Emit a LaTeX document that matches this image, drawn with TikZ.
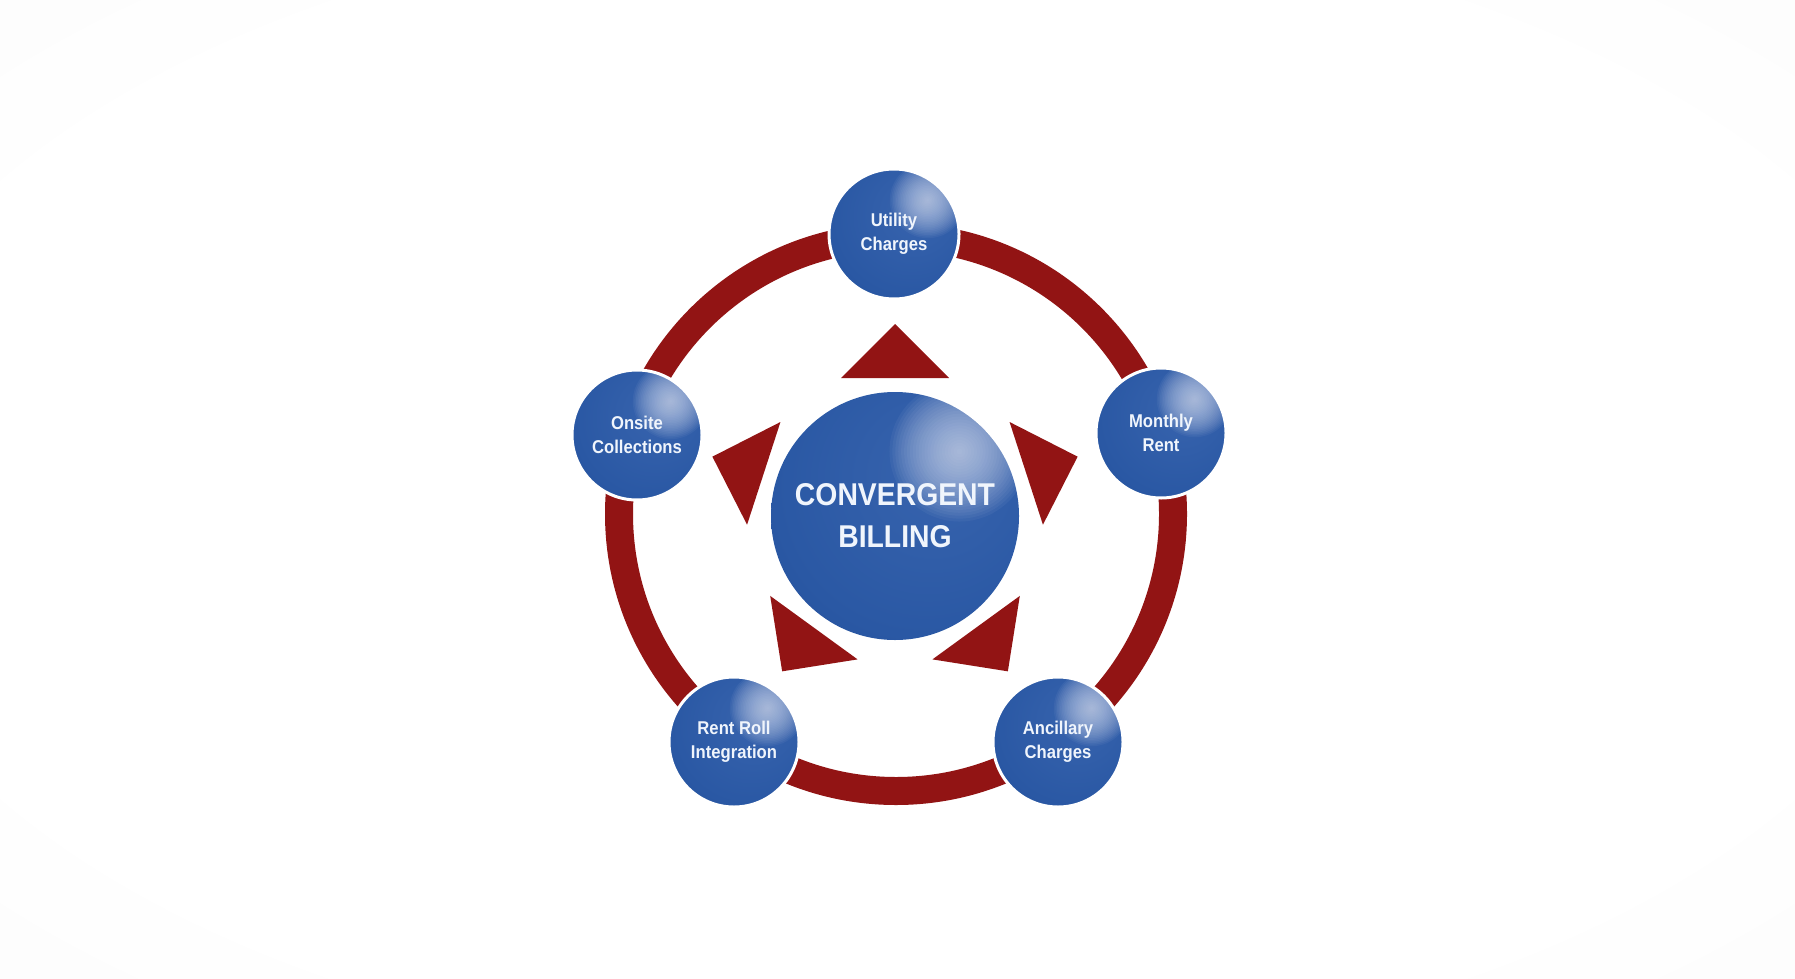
\documentclass[tikz,border=0pt]{standalone}
\usepackage{fontspec}
\newfontfamily\lblfont[FakeStretch=0.9]{Liberation Sans}
\usetikzlibrary{calc}
\definecolor{ringred}{RGB}{146,20,20}
\definecolor{sphhl}{RGB}{214,222,242}
\definecolor{sphlight}{RGB}{56,100,174}
\definecolor{sphmid}{RGB}{42,88,164}
\definecolor{sphrim}{RGB}{34,78,152}
\definecolor{sphedge}{RGB}{24,64,134}
\definecolor{txtwhite}{RGB}{240,245,252}
\definecolor{bgmid}{RGB}{248,248,248}
\definecolor{bgedge}{RGB}{232,232,232}
\pgfdeclareradialshading{spherebase}{\pgfpoint{10bp}{10bp}}{color(0bp)=(sphlight); color(30bp)=(sphmid); color(44bp)=(sphrim); color(60bp)=(sphedge); color(70bp)=(sphedge)}
\pgfdeclareradialshading{bgshade}{\pgfpoint{0bp}{0bp}}{color(0bp)=(white); color(28bp)=(white); color(50bp)=(bgmid); color(72bp)=(bgedge)}
\tikzset{
  spot/.style={path picture={
    \coordinate (spotc) at ($(path picture bounding box.center)!0.52!(path picture bounding box.north east)$);
    \foreach \k in {1,...,24}{
      \fill[sphhl, fill opacity=0.055] (spotc) circle[radius={#1*(25-\k)/24}];
    }}},
  smallball/.style={circle, minimum size=130pt, inner sep=0pt, draw=white, line width=3pt,
    shade, shading=spherebase, spot=38pt, text=txtwhite, align=center,
    font={\lblfont\bfseries\fontsize{18.5}{24}\selectfont}},
  bigball/.style={circle, minimum size=248pt, inner sep=0pt,
    shade, shading=spherebase, spot=70pt, text=txtwhite, align=center,
    font={\lblfont\bfseries\fontsize{31.5}{42}\selectfont}},
  ringline/.style={draw=ringred, line width=28pt},
  arrowtri/.style={fill=ringred}
}
\begin{document}
\begin{tikzpicture}[x=1pt,y=-1pt]
\useasboundingbox (0,0) rectangle (1795,979);
\fill[shading=bgshade] (0,0) rectangle (1795,979);
% ring
\coordinate (ringc) at (896,514);
\draw[ringline] (ringc) circle[radius=277pt];
% outer balls
\node[smallball] (util) at (894,234) {Utility\\Charges};
\node[smallball] (month) at (1161,433) {Monthly\\Rent};
\node[smallball] (ancil) at (1058,742) {Ancillary\\Charges};
\node[smallball] (rentroll) at (734,742) {Rent Roll\\Integration};
\node[smallball] (onsite) at (637,435) {Onsite\\Collections};
% triangles
\coordinate (c) at (895,516);
\foreach \a in {90,18,-54,-126,162}{
  \fill[arrowtri, shift={(c)}, rotate=\a-90] (0pt,192pt) -- (-54pt,138pt) -- (54pt,138pt) -- cycle;
}
% centre ball
\node[bigball] (core) at (c) {CONVERGENT\\BILLING};
\end{tikzpicture}
\end{document}
